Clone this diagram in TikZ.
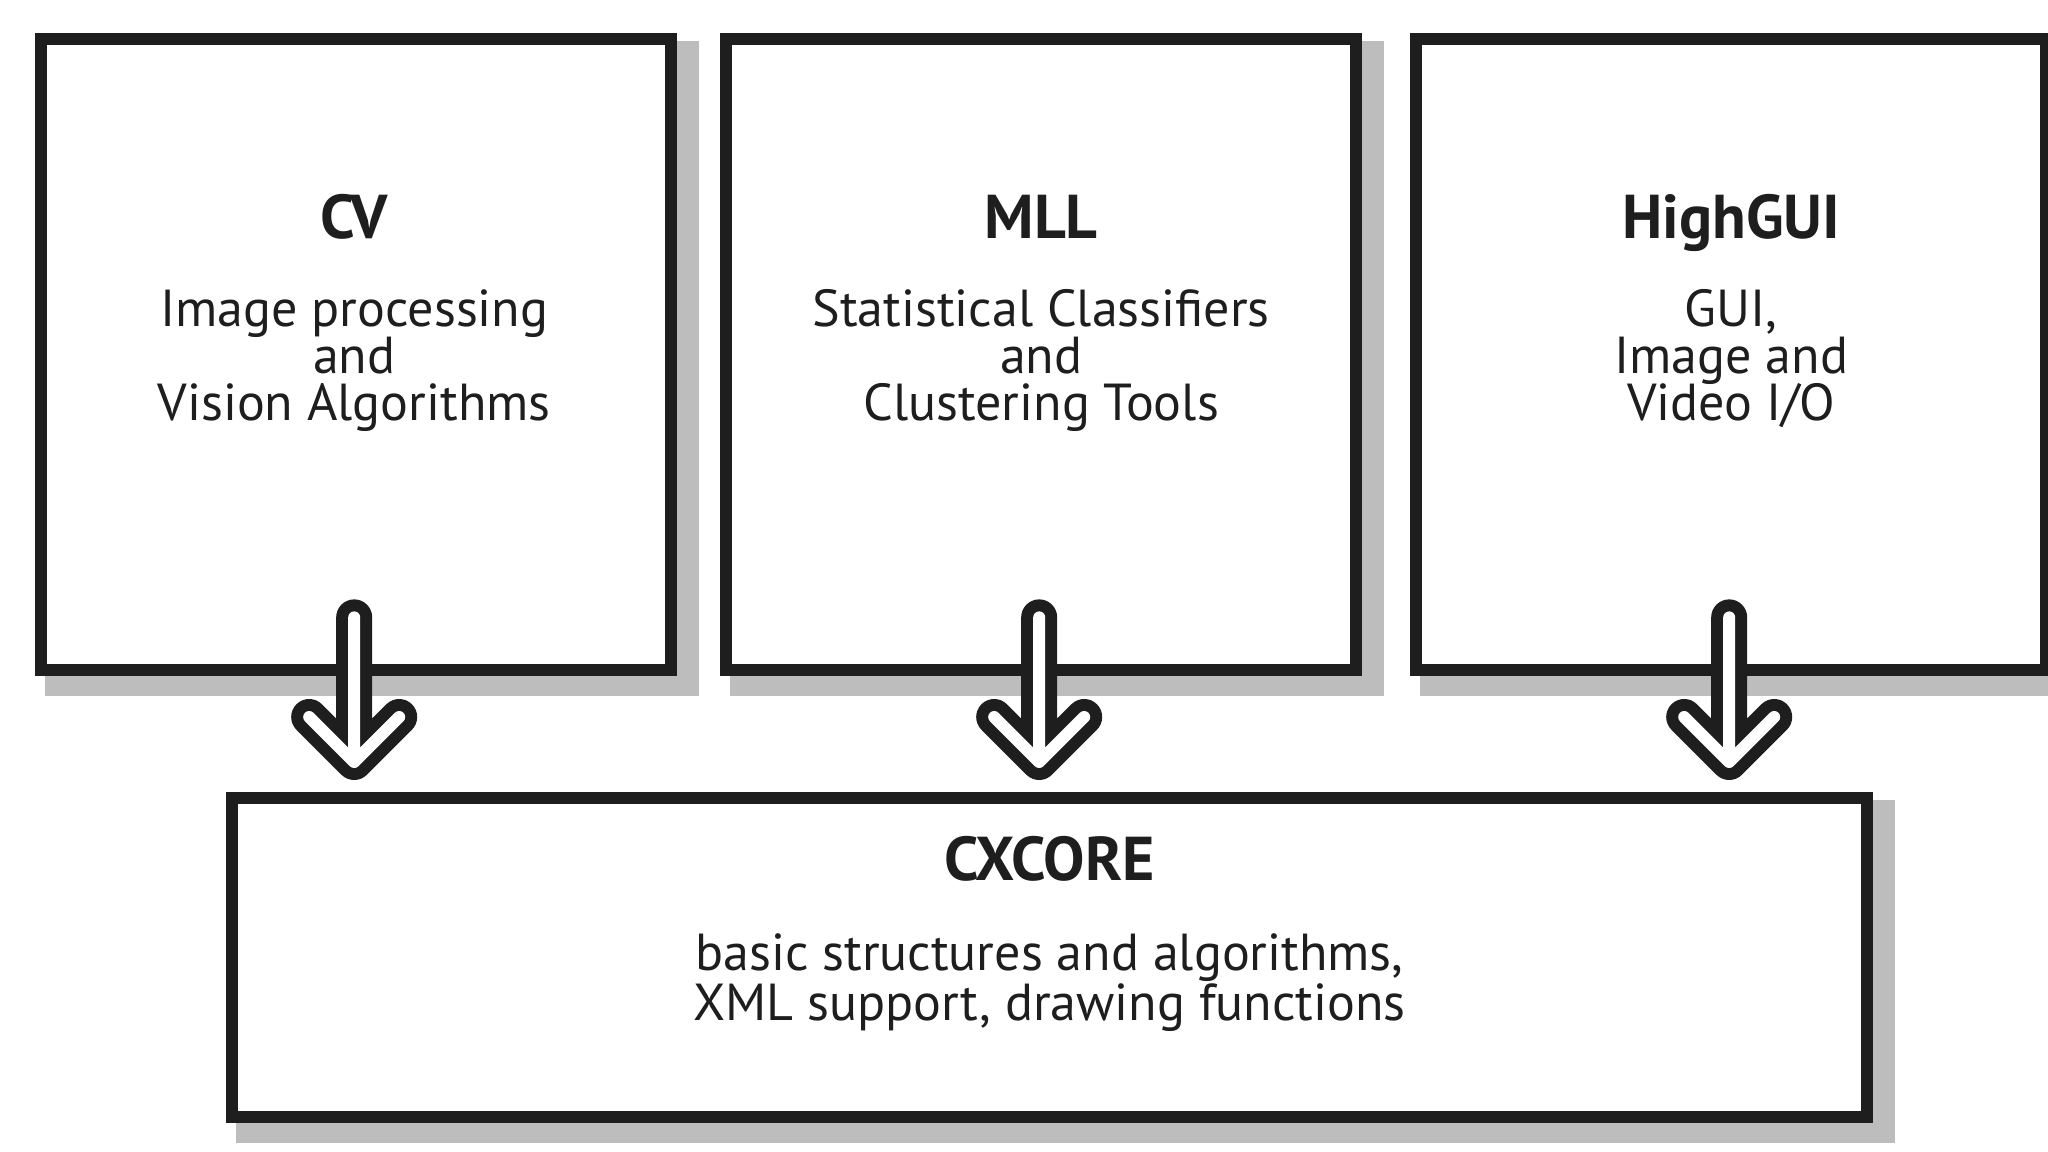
\documentclass[tikz,border=0pt]{standalone}
\usepackage{fontspec}
\setmainfont{PT Sans}
\usetikzlibrary{calc,backgrounds}
\definecolor{ink}{HTML}{1E1E1E}
\definecolor{shadowgray}{HTML}{BDBDBD}
\tikzset{
  box/.style={draw=ink, line width=0.12cm, fill=white, inner sep=0pt, anchor=north west},
  ttl/.style={font=\bfseries\fontsize{17.6}{17.6}\selectfont, text=ink, inner sep=0pt, anchor=base},
  txt/.style={font=\fontsize{14.8}{14.8}\selectfont, text=ink, inner sep=0pt, anchor=base,
              text height=0.72em, text depth=0.1em},
  arrowout/.style={draw=ink, line width=0.36cm, line cap=round, line join=round},
  arrowin/.style={draw=white, line width=0.12cm, line cap=round, line join=round},
}
\begin{document}
\begin{tikzpicture}[x=0.01cm, y=-0.01cm]
\useasboundingbox (0,0) rectangle (2048,1152);
% boxes
\node[box, minimum width=6.30cm, minimum height=6.31cm] (cv) at (35,33) {};
\node[box, minimum width=6.30cm, minimum height=6.31cm] (mll) at (720,33) {};
\node[box, minimum width=6.30cm, minimum height=6.31cm] (hg) at (1410,33) {};
\node[box, minimum width=16.34cm, minimum height=3.19cm] (core) at (226,792) {};
% shadows
\begin{scope}[on background layer]
\foreach \b in {cv,mll,hg,core}{
  \fill[shadowgray] ($(\b.north west)+(10,8)$) rectangle ($(\b.south east)+(22,20)$);
}
\end{scope}
% texts
\node[ttl] (cvT) at ($(cv.north)+(-2,206)$) {CV};
\node[txt] (cvB1) at ($(cv.north)+(-2,294)$) {Image processing};
\node[txt] (cvB2) at ($(cv.north)+(-2,341)$) {and};
\node[txt] (cvB3) at ($(cv.north)+(-2,388)$) {Vision Algorithms};
\node[ttl] (mllT) at ($(mll.north)+(0,206)$) {MLL};
\node[txt] (mllB1) at ($(mll.north)+(0,294)$) {Statistical Classifiers};
\node[txt] (mllB2) at ($(mll.north)+(0,341)$) {and};
\node[txt] (mllB3) at ($(mll.north)+(0,388)$) {Clustering Tools};
\node[ttl] (hgT) at ($(hg.north)+(0,206)$) {HighGUI};
\node[txt] (hgB1) at ($(hg.north)+(0,294)$) {GUI,};
\node[txt] (hgB2) at ($(hg.north)+(0,341)$) {Image and};
\node[txt] (hgB3) at ($(hg.north)+(0,388)$) {Video I/O};
\node[ttl] (coreT) at ($(core.north)+(0,88)$) {CXCORE};
\node[txt] (coreB1) at ($(core.north)+(0,178)$) {basic structures and algorithms,};
\node[txt] (coreB2) at ($(core.north)+(0,228)$) {XML support, drawing functions};
% arrows
\foreach \b in {cv,mll,hg}{
  \path ($(\b.south)+(-2,-59)$) coordinate (\b-top);
  \path ($(\b.south |- core.north)+(-2,-30)$) coordinate (\b-tip);
  \draw[arrowout] (\b-top) -- (\b-tip) ($(\b-tip)+(-45,-45)$) -- (\b-tip) -- ($(\b-tip)+(45,-45)$);
  \draw[arrowin] (\b-top) -- (\b-tip) ($(\b-tip)+(-45,-45)$) -- (\b-tip) -- ($(\b-tip)+(45,-45)$);
}
\end{tikzpicture}
\end{document}
